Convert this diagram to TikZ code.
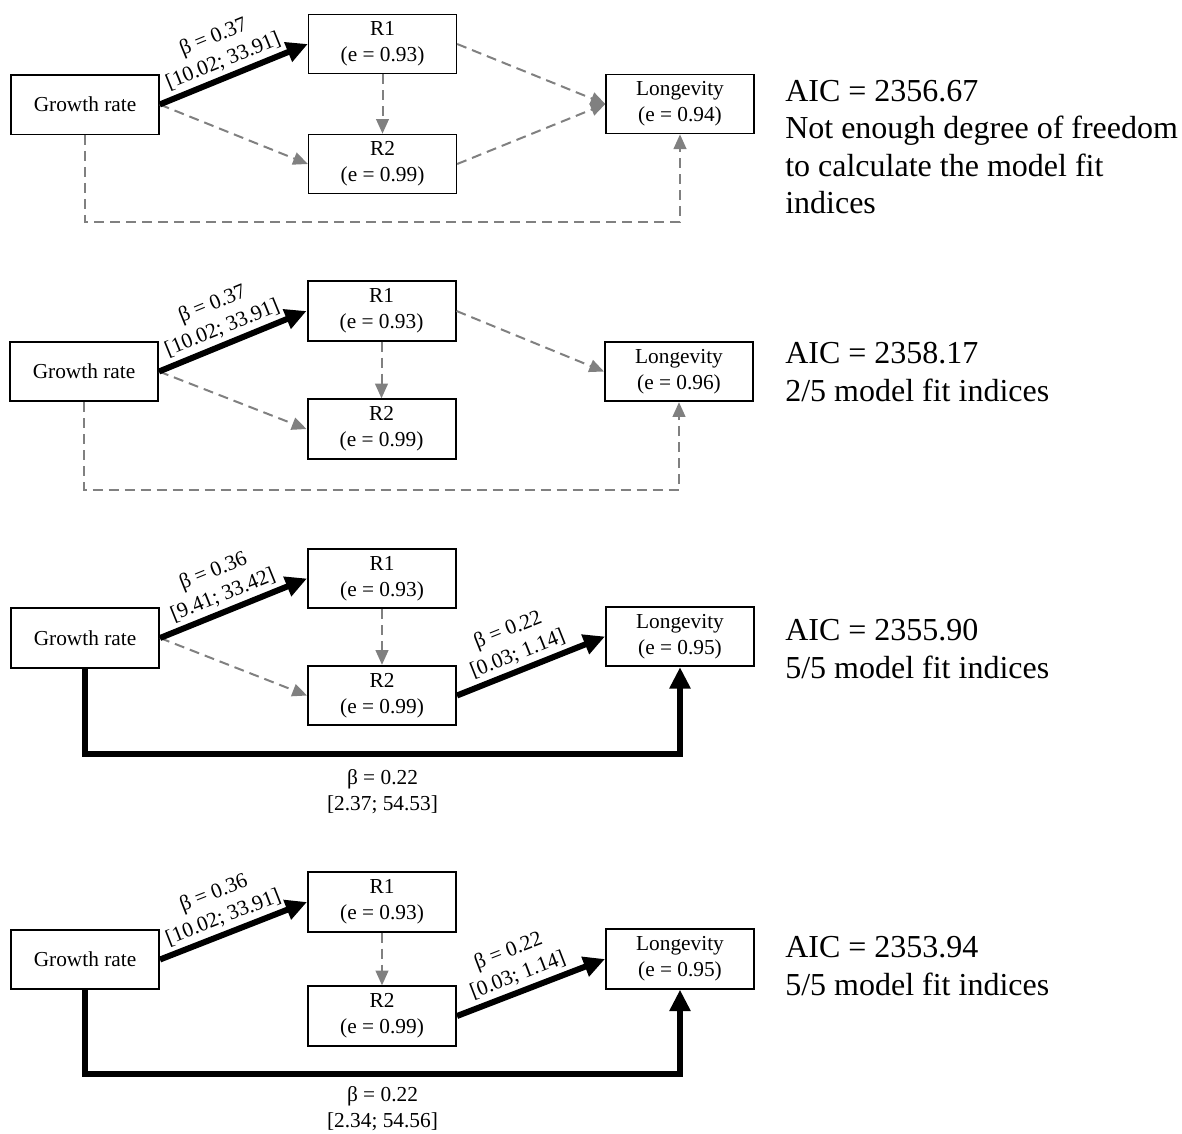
\documentclass[tikz,border=0pt]{standalone}
\usepackage{fontspec}
\setmainfont{Liberation Serif}
\usetikzlibrary{arrows.meta}
\definecolor{dgray}{RGB}{128,128,128}
\begin{document}
\begin{tikzpicture}[x=0.75pt,y=-0.75pt,
  box/.style={draw, fill=white, minimum width=111pt, minimum height=44.5pt, inner sep=0pt, align=center, font=\fontsize{16pt}{19.5pt}\selectfont},
  thinbox/.style={box, line width=1pt},
  boldbox/.style={box, line width=1.5pt},
  sig/.style={line width=4.5pt, -{Triangle[length=16pt,width=15pt]}},
  ns/.style={dgray, line width=1.5pt, dash pattern=on 7.5pt off 4.5pt, -{Triangle[length=11pt,width=9.5pt]}},
  lab/.style={font=\fontsize{16pt}{19.5pt}\selectfont, align=center, inner sep=1pt, text=black},
  info/.style={anchor=base west, font=\fontsize{24pt}{28pt}\selectfont, inner sep=0pt}
]
\useasboundingbox (0,0) rectangle (1182,1133);

% ---------------- Panel 1 ----------------
\node[thinbox] (gr1) at (85,104.5) {Growth rate};
\node[thinbox] (ra1) at (382.5,44) {R1\\(e = 0.93)};
\node[thinbox] (rb1) at (382.5,164) {R2\\(e = 0.99)};
\node[thinbox] (lo1) at (680,104) {Longevity\\(e = 0.94)};
\draw[ns] (ra1.south) -- (rb1.north);
\draw[ns] (gr1.east) -- (rb1.west);
\draw[ns] (ra1.east) -- (lo1.west);
\draw[ns] (rb1.east) -- (lo1.west);
\draw[ns] (gr1.south) -- ++(0,87) -| (lo1.south);
\draw[sig] (gr1.east) -- node[lab, sloped, above=2pt, pos=0.47] {β = 0.37\\{}[10.02; 33.91]} (ra1.west);
\node[info] (t1a) at (785,101) {AIC = 2356.67};
\node[info] (t1b) at (785,138.5) {Not enough degree of freedom};
\node[info] (t1c) at (785,176) {to calculate the model fit};
\node[info] (t1d) at (785,213.5) {indices};

% ---------------- Panel 2 ----------------
\node[boldbox] (gr2) at (84,371.5) {Growth rate};
\node[boldbox] (ra2) at (381.5,311) {R1\\(e = 0.93)};
\node[boldbox] (rb2) at (381.5,429) {R2\\(e = 0.99)};
\node[boldbox] (lo2) at (679,371.5) {Longevity\\(e = 0.96)};
\draw[ns] (ra2.south) -- (rb2.north);
\draw[ns] (gr2.east) -- (rb2.west);
\draw[ns] (ra2.east) -- (lo2.west);
\draw[ns] (gr2.south) -- ++(0,87.5) -| (lo2.south);
\draw[sig] (gr2.east) -- node[lab, sloped, above=2pt, pos=0.47] {β = 0.37\\{}[10.02; 33.91]} (ra2.west);
\node[info] (t2a) at (785,363) {AIC = 2358.17};
\node[info] (t2b) at (785,401) {2/5 model fit indices};

% ---------------- Panel 3 ----------------
\node[boldbox] (gr3) at (85,638) {Growth rate};
\node[boldbox] (ra3) at (382,578.5) {R1\\(e = 0.93)};
\node[boldbox] (rb3) at (382,695.5) {R2\\(e = 0.99)};
\node[boldbox] (lo3) at (680,636.5) {Longevity\\(e = 0.95)};
\draw[ns] (ra3.south) -- (rb3.north);
\draw[ns] (gr3.east) -- (rb3.west);
\draw[sig] (gr3.east) -- node[lab, sloped, above=2pt, pos=0.47] {β = 0.36\\{}[9.41; 33.42]} (ra3.west);
\draw[sig] (rb3.east) -- node[lab, sloped, above=2pt, pos=0.45] {β = 0.22\\{}[0.03; 1.14]} (lo3.west);
\draw[sig] (gr3.south) -- ++(0,85.3) -- node[lab, below=8pt] {β = 0.22\\{}[2.37; 54.53]} ++(595,0) -- (lo3.south);
\node[info] (t3a) at (785,640.5) {AIC = 2355.90};
\node[info] (t3b) at (785,678) {5/5 model fit indices};

% ---------------- Panel 4 ----------------
\node[boldbox] (gr4) at (85,959.5) {Growth rate};
\node[boldbox] (ra4) at (382,902) {R1\\(e = 0.93)};
\node[boldbox] (rb4) at (382,1016) {R2\\(e = 0.99)};
\node[boldbox] (lo4) at (680,959) {Longevity\\(e = 0.95)};
\draw[ns] (ra4.south) -- (rb4.north);
\draw[sig] (gr4.east) -- node[lab, sloped, above=2pt, pos=0.47] {β = 0.36\\{}[10.02; 33.91]} (ra4.west);
\draw[sig] (rb4.east) -- node[lab, sloped, above=2pt, pos=0.45] {β = 0.22\\{}[0.03; 1.14]} (lo4.west);
\draw[sig] (gr4.south) -- ++(0,83.8) -- node[lab, below=6pt] {β = 0.22\\{}[2.34; 54.56]} ++(595,0) -- (lo4.south);
\node[info] (t4a) at (785,957.5) {AIC = 2353.94};
\node[info] (t4b) at (785,995.5) {5/5 model fit indices};
\end{tikzpicture}
\end{document}
